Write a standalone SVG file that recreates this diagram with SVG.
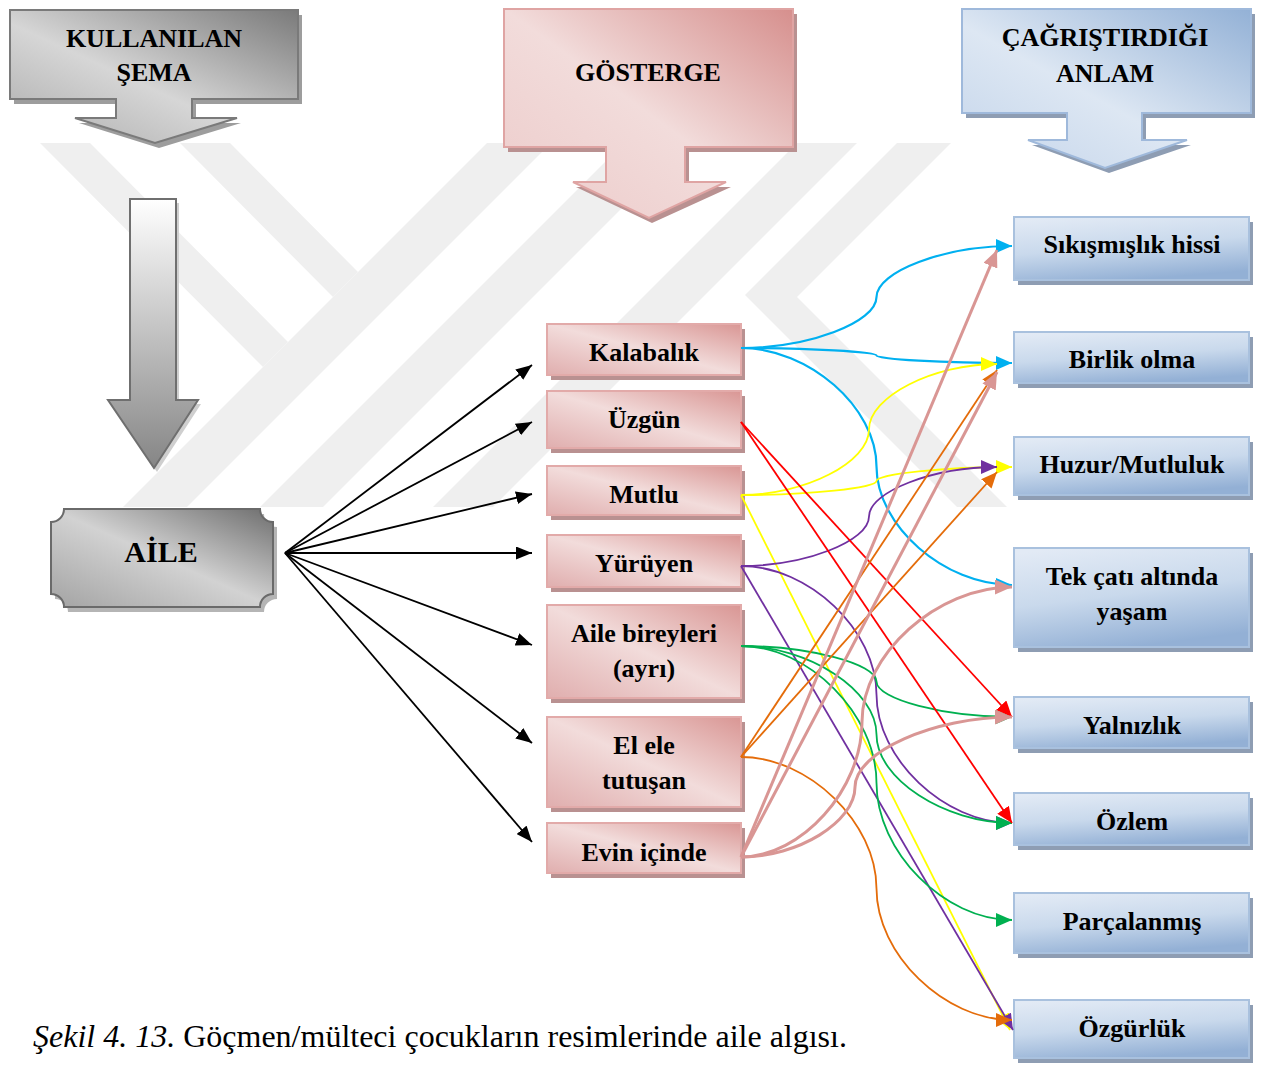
<svg xmlns="http://www.w3.org/2000/svg" width="1261" height="1066" viewBox="0 0 1261 1066">
<defs>
<style>
.t{font-family:"Liberation Serif","Times New Roman",serif;font-weight:bold;font-size:26px;fill:#000;text-anchor:middle}
.wm{fill:#efefef}
.pk{fill:url(#gPink);stroke:#e2aaa9;stroke-width:2}
.pks{fill:#b99191}
.bl{fill:url(#gBlue);stroke:#a9c1de;stroke-width:2}
.bls{fill:#8e9db3}
.c{fill:none}
</style>
<linearGradient id="gPink" x1="1" y1="0" x2="0" y2="1">
<stop offset="0" stop-color="#d99694"/><stop offset="0.5" stop-color="#f2dcdb"/><stop offset="1" stop-color="#e0aeae"/>
</linearGradient>
<linearGradient id="gPinkH" x1="1" y1="0" x2="0" y2="1">
<stop offset="0" stop-color="#d68f8d"/><stop offset="0.5" stop-color="#f2dcdb"/><stop offset="1" stop-color="#eccac9"/>
</linearGradient>
<linearGradient id="gBlue" x1="0.2" y1="0" x2="0.5" y2="1">
<stop offset="0" stop-color="#e2eaf5"/><stop offset="0.5" stop-color="#c9d9ec"/><stop offset="1" stop-color="#93b0d5"/>
</linearGradient>
<linearGradient id="gBlueH" x1="1" y1="0" x2="0" y2="1">
<stop offset="0" stop-color="#93b1d6"/><stop offset="0.55" stop-color="#dde7f3"/><stop offset="1" stop-color="#c3d4ea"/>
</linearGradient>
<linearGradient id="gGrayH" x1="1" y1="0" x2="0" y2="1">
<stop offset="0" stop-color="#7a7a7a"/><stop offset="0.55" stop-color="#d6d6d6"/><stop offset="1" stop-color="#ababab"/>
</linearGradient>
<linearGradient id="gGrayV" x1="0" y1="0" x2="0" y2="1">
<stop offset="0" stop-color="#ffffff"/><stop offset="1" stop-color="#858585"/>
</linearGradient>
<linearGradient id="gAile" x1="1" y1="0" x2="0" y2="1">
<stop offset="0" stop-color="#6e6e6e"/><stop offset="0.5" stop-color="#d2d2d2"/><stop offset="1" stop-color="#a3a3a3"/>
</linearGradient>
<marker id="mK" markerUnits="userSpaceOnUse" markerWidth="16" markerHeight="13" refX="16" refY="6.5" orient="auto"><path d="M0,0 L16,6.5 L0,13 z" fill="#000"/></marker>
<marker id="mC" markerUnits="userSpaceOnUse" markerWidth="16" markerHeight="14" refX="16" refY="7" orient="auto"><path d="M0,0 L16,7 L0,14 z" fill="#00b0f0"/></marker>
<marker id="mR" markerUnits="userSpaceOnUse" markerWidth="16" markerHeight="14" refX="16" refY="7" orient="auto"><path d="M0,0 L16,7 L0,14 z" fill="#ff0000"/></marker>
<marker id="mY" markerUnits="userSpaceOnUse" markerWidth="16" markerHeight="14" refX="16" refY="7" orient="auto"><path d="M0,0 L16,7 L0,14 z" fill="#ffff00"/></marker>
<marker id="mP" markerUnits="userSpaceOnUse" markerWidth="16" markerHeight="14" refX="16" refY="7" orient="auto"><path d="M0,0 L16,7 L0,14 z" fill="#7030a0"/></marker>
<marker id="mG" markerUnits="userSpaceOnUse" markerWidth="16" markerHeight="14" refX="16" refY="7" orient="auto"><path d="M0,0 L16,7 L0,14 z" fill="#00b050"/></marker>
<marker id="mO" markerUnits="userSpaceOnUse" markerWidth="16" markerHeight="14" refX="16" refY="7" orient="auto"><path d="M0,0 L16,7 L0,14 z" fill="#e46c0a"/></marker>
<marker id="mPk" markerUnits="userSpaceOnUse" markerWidth="17" markerHeight="15" refX="17" refY="7.5" orient="auto"><path d="M0,0 L17,7.5 L0,15 z" fill="#d99694"/></marker>
</defs>
<rect width="1261" height="1066" fill="#fff"/>

<g id="watermark">
<polygon class="wm" points="40,143 90,143 288,342 263,367"/>
<polygon class="wm" points="180,143 230,143 358,272 333,297"/>
<polygon class="wm" points="123,507 187,507 551,143 487,143"/>
<polygon class="wm" points="260,507 323,507 687,143 624,143"/>
<polygon class="wm" points="433,507 493,507 857,143 797,143"/>
<polygon class="wm" points="897,143 951,143 797,297 1007,507 957,507 745,295"/>
</g>

<g id="header-sema">
<path d="M14,15 H302 V104 H196 V123 H241 L159,148 L79,123 H120 V104 H14 Z" fill="#9d9d9d"/>
<path d="M10,10 H298 V99 H192 V118 H237 L155,143 L75,118 H116 V99 H10 Z" fill="url(#gGrayH)" stroke="#7a7a7a" stroke-width="2"/>
<text class="t" x="154" y="47">KULLANILAN</text>
<text class="t" x="154" y="81">ŞEMA</text>
</g>

<g id="header-gosterge">
<path d="M508,14 H797 V152 H689 V187 H731 L652,223 L576,187 H610 V152 H508 Z" fill="#b99191"/>
<path d="M504,9 H793 V147 H685 V182 H726 L649,218 L573,182 H606 V147 H504 Z" fill="url(#gPinkH)" stroke="#dfa4a3" stroke-width="2"/>
<text class="t" x="648" y="81">GÖSTERGE</text>
</g>

<g id="header-anlam">
<path d="M966,14 H1255 V118 H1146 V145 H1191 L1109,173 L1032,145 H1071 V118 H966 Z" fill="#8e9db3"/>
<path d="M962,9 H1251 V113 H1142 V140 H1187 L1105,168 L1028,140 H1067 V113 H962 Z" fill="url(#gBlueH)" stroke="#9fb9db" stroke-width="2"/>
<text class="t" x="1105" y="46">ÇAĞRIŞTIRDIĞI</text>
<text class="t" x="1105" y="82">ANLAM</text>
</g>

<g id="down-arrow">
<path d="M133,203 H179 V404 H201 L157,472 L111,404 H133 Z" fill="#cfcfcf"/>
<path d="M130,199 H176 V400 H198 L154,468 L108,400 H130 Z" fill="url(#gGrayV)" stroke="#6f6f6f" stroke-width="2"/>
</g>

<g id="aile">
<path d="M68,514 H264 A13,13 0 0 0 277,527 V599 A13,13 0 0 0 264,612 H68 A13,13 0 0 0 55,599 V527 A13,13 0 0 0 68,514 Z" fill="#b5b5b5"/>
<path d="M64,509 H260 A13,13 0 0 0 273,522 V594 A13,13 0 0 0 260,607 H64 A13,13 0 0 0 51,594 V522 A13,13 0 0 0 64,509 Z" fill="url(#gAile)" stroke="#6a6a6a" stroke-width="2"/>
<text class="t" x="161" y="562" style="font-size:30px">AİLE</text>
</g>

<g id="n-kalabalik"><rect class="pks" x="551" y="329" width="194" height="51"/><rect class="pk" x="547" y="324" width="194" height="51"/><text class="t" x="644" y="361">Kalabalık</text></g>
<g id="n-uzgun"><rect class="pks" x="551" y="396" width="194" height="57"/><rect class="pk" x="547" y="391" width="194" height="57"/><text class="t" x="644" y="428">Üzgün</text></g>
<g id="n-mutlu"><rect class="pks" x="551" y="471" width="194" height="49"/><rect class="pk" x="547" y="466" width="194" height="49"/><text class="t" x="644" y="503">Mutlu</text></g>
<g id="n-yuruyen"><rect class="pks" x="551" y="540" width="194" height="52"/><rect class="pk" x="547" y="535" width="194" height="52"/><text class="t" x="644" y="572">Yürüyen</text></g>
<g id="n-aile-bireyleri"><rect class="pks" x="551" y="610" width="194" height="93"/><rect class="pk" x="547" y="605" width="194" height="93"/><text class="t" x="644" y="642">Aile bireyleri</text><text class="t" x="644" y="677">(ayrı)</text></g>
<g id="n-el-ele"><rect class="pks" x="551" y="722" width="194" height="90"/><rect class="pk" x="547" y="717" width="194" height="90"/><text class="t" x="644" y="754">El ele</text><text class="t" x="644" y="789">tutuşan</text></g>
<g id="n-evin"><rect class="pks" x="551" y="828" width="194" height="50"/><rect class="pk" x="547" y="823" width="194" height="50"/><text class="t" x="644" y="861">Evin içinde</text></g>

<g id="r-sikismislik"><rect class="bls" x="1018" y="222" width="235" height="63"/><rect class="bl" x="1014" y="217" width="235" height="63"/><text class="t" x="1132" y="253">Sıkışmışlık hissi</text></g>
<g id="r-birlik"><rect class="bls" x="1018" y="337" width="235" height="51"/><rect class="bl" x="1014" y="332" width="235" height="51"/><text class="t" x="1132" y="368">Birlik olma</text></g>
<g id="r-huzur"><rect class="bls" x="1018" y="442" width="235" height="58"/><rect class="bl" x="1014" y="437" width="235" height="58"/><text class="t" x="1132" y="473">Huzur/Mutluluk</text></g>
<g id="r-tekcati"><rect class="bls" x="1018" y="553" width="235" height="99"/><rect class="bl" x="1014" y="548" width="235" height="99"/><text class="t" x="1132" y="585">Tek çatı altında</text><text class="t" x="1132" y="620">yaşam</text></g>
<g id="r-yalnizlik"><rect class="bls" x="1018" y="702" width="235" height="51"/><rect class="bl" x="1014" y="697" width="235" height="51"/><text class="t" x="1132" y="734">Yalnızlık</text></g>
<g id="r-ozlem"><rect class="bls" x="1018" y="798" width="235" height="52"/><rect class="bl" x="1014" y="793" width="235" height="52"/><text class="t" x="1132" y="830">Özlem</text></g>
<g id="r-parcalanmis"><rect class="bls" x="1018" y="898" width="235" height="60"/><rect class="bl" x="1014" y="893" width="235" height="60"/><text class="t" x="1132" y="930">Parçalanmış</text></g>
<g id="r-ozgurluk"><rect class="bls" x="1018" y="1005" width="235" height="58"/><rect class="bl" x="1014" y="1000" width="235" height="58"/><text class="t" x="1132" y="1037">Özgürlük</text></g>

<g id="connectors">
<g stroke="#000" stroke-width="1.8" fill="none" marker-end="url(#mK)">
<path d="M285,553 L532,365"/>
<path d="M285,553 L532,422"/>
<path d="M285,553 L532,494"/>
<path d="M285,553 L532,553"/>
<path d="M285,553 L532,645"/>
<path d="M285,553 L532,743"/>
<path d="M285,553 L532,842"/>
</g>
<g class="c" stroke="#00b0f0" stroke-width="2.2" marker-end="url(#mC)">
<path d="M741,348 C808.75,348 876.5,322.5 876.5,297 C876.5,271.5 944.25,246 1012,246"/>
<path d="M741,348 C808.75,348 876.5,351.75 876.5,355.5 C876.5,359.25 944.25,363 1012,363"/>
<path d="M741,348 C808.75,348 876.5,407.25 876.5,466.5 C876.5,525.75 944.25,585 1012,585"/>
</g>
<g class="c" stroke="#ffff00" stroke-width="1.8" marker-end="url(#mY)">
<path d="M741,495 C805,495 869,462.25 869,429.5 C869,396.75 933,364 997,364"/>
<path d="M741,495 C808.75,495 876.5,488 876.5,481 C876.5,474 944.25,467 1012,467"/>
<path d="M741,495 L1010,1030"/>
</g>
<g class="c" stroke="#7030a0" stroke-width="1.8" marker-end="url(#mP)">
<path d="M741,566 C805,566 869,541.25 869,516.5 C869,491.75 933,467 997,467"/>
<path d="M741,566 C808.75,566 876.5,630.25 876.5,694.5 C876.5,758.75 944.25,823 1012,823"/>
<path d="M741,566 L1013,1030"/>
</g>
<g class="c" stroke="#00b050" stroke-width="1.8" marker-end="url(#mG)">
<path d="M741,646 C808.75,646 876.5,663.75 876.5,681.5 C876.5,699.25 944.25,717 1012,717"/>
<path d="M741,646 C808.75,646 876.5,690.25 876.5,734.5 C876.5,778.75 944.25,823 1012,823"/>
<path d="M741,646 C808.75,646 876.5,714.5 876.5,783 C876.5,851.5 944.25,920 1012,920"/>
</g>
<g class="c" stroke="#ff0000" stroke-width="1.8" marker-end="url(#mR)">
<path d="M741,422 L1012,717"/>
<path d="M741,422 L1012,823"/>
</g>
<g class="c" stroke="#e46c0a" stroke-width="1.8" marker-end="url(#mO)">
<path d="M741,757 L997,370"/>
<path d="M741,757 L997,472"/>
<path d="M741,757 C808.75,757 876.5,822.75 876.5,888.5 C876.5,954.25 944.25,1020 1012,1020"/>
</g>
<g class="c" stroke="#d99694" stroke-width="3" marker-end="url(#mPk)">
<path d="M741,857 L997,250"/>
<path d="M741,857 L997,372"/>
<path d="M741,857 C801.5,857 862,789.5 862,722 C862,654.5 937,587 1012,587"/>
<path d="M741,857 C798,857 855,822 855,787 C855,752 933.5,717 1012,717"/>
</g>
</g>

<text x="33" y="1047" style="font-family:'Liberation Serif','Times New Roman',serif;font-size:32px;fill:#000"><tspan font-style="italic">Şekil 4. 13.</tspan> Göçmen/mülteci çocukların resimlerinde aile algısı.</text>
</svg>
